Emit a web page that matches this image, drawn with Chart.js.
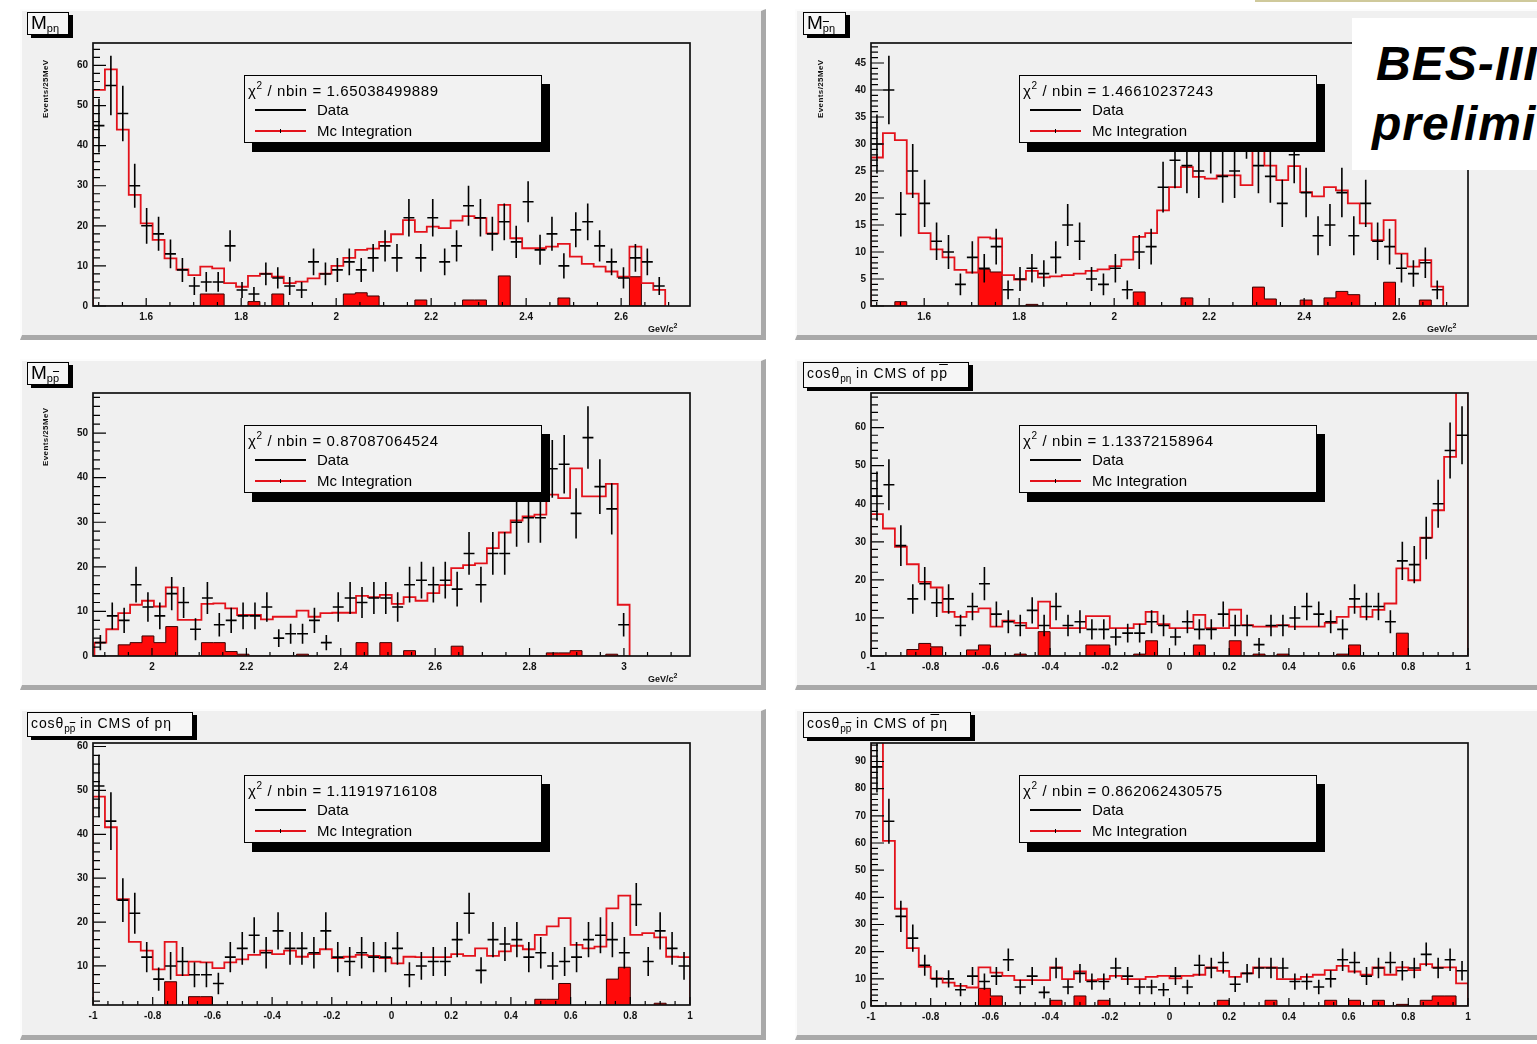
<!DOCTYPE html>
<html>
<head>
<meta charset="utf-8">
<title>BES-III p pbar eta projections</title>
<script src="https://cdn.jsdelivr.net/npm/chart.js@4.4.1/dist/chart.umd.min.js"></script>
<style>
  html, body { margin: 0; padding: 0; }
  body { width: 1537px; height: 1044px; overflow: hidden; position: relative; background: #ffffff; font-family: "Liberation Sans", Arial, sans-serif; }
  .pad { position: absolute; box-sizing: border-box; background: #f0f0f0; border-top: 2px solid #fcfcfc; border-left: 2px solid #fcfcfc; border-right: 5px solid #a9a9a9; border-bottom: 5px solid #a9a9a9; }
  canvas.plot { position: absolute; }
  .ptitle { position: absolute; box-sizing: border-box; background: #f6f6f6; border: 1px solid #000; box-shadow: 4px 3px 0 #000; color: #000; white-space: nowrap; padding-left: 3px; }
  .ptitle.m { font-size: 19px; line-height: 20px; }
  .ptitle.m sub { font-size: 11px; vertical-align: -3px; }
  .ptitle.c { font-size: 14px; line-height: 20px; letter-spacing: 0.9px; }
  .ptitle.c sub { font-size: 10px; vertical-align: -4px; letter-spacing: 0; }
  .ov { text-decoration: overline; }
  .legend { position: absolute; box-sizing: border-box; width: 298px; height: 68px; background: #f2f2f2; border: 1.5px solid #000; box-shadow: 8px 9px 0 #000; color: #000; font-size: 15px; }
  .legend .row { position: absolute; left: 0; height: 18px; line-height: 18px; white-space: nowrap; }
  .legend .chi { left: 3px; letter-spacing: 0.6px; }
  .legend .chi sup { font-size: 10px; vertical-align: 7px; }
  .legend .lbl { position: absolute; left: 72px; top: 0; }
  .legend .sample { position: absolute; left: 10px; top: 8px; width: 51px; height: 2px; }
  .legend .tick { position: absolute; left: 35px; top: 7px; width: 1px; height: 4px; background: #000; }
  .ytitle { position: absolute; font-size: 8px; font-weight: bold; color: #111; white-space: nowrap; transform-origin: 0 0; transform: rotate(-90deg); letter-spacing: 0.4px; }
  .xtitle { position: absolute; font-size: 9px; font-weight: bold; color: #111; white-space: nowrap; }
  .xtitle sup { font-size: 7px; }
  #bes { position: absolute; left: 1352px; top: 18px; width: 200px; height: 152px; background: #ffffff; }
  #bes div { position: absolute; font-weight: bold; font-style: italic; font-size: 48px; line-height: 48px; letter-spacing: 1px; color: #000; white-space: nowrap; }
  #topline { position: absolute; left: 1255px; top: 0; width: 282px; height: 2px; background: #cfc99b; }
</style>
</head>
<body>
<script>
// ---------- values ----------
// M(p eta), 48 bins
const mPEtaLo = 1.488, mPEtaW = 0.0251;
const mPEtaXTicks = [1.6, 1.8, 2, 2.2, 2.4, 2.6];
const mPEtaData = [45, 55, 48, 30, 20, 18, 13, 9, 5, 6, 6, 15, 4, 3, 8, 7, 5, 4, 11, 8, 9, 11, 9, 12, 15, 12, 22, 12, 22, 11, 15, 25, 22, 18, 21, 16, 26, 14, 18, 10, 19, 21, 15, 11, 7, 12, 11, 5];
const mPEtaMc = [53.9, 59, 44, 27.7, 20.6, 16.5, 11.9, 9.1, 7.7, 9.8, 9.4, 5.7, 4.8, 7.5, 8.1, 7.3, 5.7, 6.1, 6.9, 8.1, 10, 12, 14, 14.3, 16, 17.9, 21.4, 18.5, 19.8, 19.4, 21.3, 22.4, 21.9, 18.1, 25.2, 16.9, 14.4, 14.4, 14.8, 15.5, 12.3, 10.5, 9.8, 8.6, 7.3, 14.8, 5.7, 4];
const mPEtaBkg = [0, 0, 0, 0, 0, 0, 0, 0, 0, 3, 3, 0, 0, 1.1, 0, 3, 0, 0, 0, 0, 0, 3, 3.3, 2.5, 0, 0, 0, 1.5, 0, 0, 0, 1.5, 1.5, 0, 7.5, 0, 0, 0, 0, 2, 0, 0, 0, 0, 0, 7.3, 0, 0];

// M(pbar eta), 48 bins
const mPbEtaData = [30, 40, 17, 25, 19, 12, 10, 4, 9, 7, 11, 3, 5, 7, 6, 9, 15, 12, 5, 4, 7, 3, 10, 11, 22, 27, 26, 25, 30, 24, 25, 33, 26, 24, 19, 28, 21, 13, 15, 21, 13, 19, 12, 11, 7, 6, 8, 3];
const mPbEtaMc = [27.5, 32, 30.7, 20.8, 13.5, 10.5, 9, 6.7, 6.2, 12.7, 12.5, 5.7, 4.9, 6.5, 5.3, 5.5, 5.7, 6, 6.5, 6.8, 7.4, 8.6, 12.8, 13.5, 17.7, 22, 25.7, 23.9, 23.6, 24.2, 24.2, 22.4, 28.8, 26, 23.3, 25.9, 21.1, 20.3, 22, 21.4, 19, 15.3, 12.2, 15.9, 9.7, 7.3, 8.5, 3.6];
const mPbEtaBkg = [0, 0, 0.8, 0, 0, 0, 0, 0, 0, 6.8, 6.3, 0, 0, 0.3, 0, 0, 0, 0, 0, 0, 0, 0, 2.6, 0, 0, 0, 1.5, 0, 0, 0, 0, 0, 3.5, 1.3, 0, 0, 1.1, 0, 1.5, 2.7, 2.1, 0, 0, 4.4, 0, 0, 1.1, 0];

// M(p pbar), 45 bins
const mPPbLo = 1.878, mPPbW = 0.0252;
const mPPbXTicks = [2, 2.2, 2.4, 2.6, 2.8, 3];
const mPPbData = [3, 9, 8, 16, 11, 9, 14, 12, 6, 13, 7, 8, 9, 9, 11, 4, 5, 5, 8, 3, 11, 13, 12, 13, 13, 11, 16, 17, 16, 17, 15, 23, 16, 23, 23, 30, 31, 31, 42, 43, 32, 49, 38, 33, 7];
const mPPbMc = [3, 6, 9.6, 11.5, 12.4, 11.1, 15.4, 8.1, 8.1, 11.7, 11.8, 10.7, 9.2, 9.2, 8.2, 8.8, 8.8, 10.2, 8.8, 9.6, 9.7, 9.7, 13.5, 13.2, 13.7, 11.7, 13.2, 12.4, 14.1, 15.9, 19.7, 20.4, 20.8, 24.2, 27.7, 30.4, 31.3, 31.7, 36.2, 35.4, 42.1, 35.8, 35.8, 38.6, 11.5];
const mPPbBkg = [0, 0, 2.5, 3, 4.5, 3, 6.6, 0, 0, 3, 3, 1, 0.4, 0, 0, 0, 0, 0.4, 0, 0, 0, 0, 3, 0, 3, 0, 1.2, 0, 0, 0, 2.2, 0, 0, 0, 0, 0, 0, 0, 0.7, 0.7, 1.2, 0, 0, 0.4, 0];

// cos(theta) distributions, 50 bins on [-1, 1]
const cosLo = -1, cosW = 0.04;
const cosXTicks = [-1, -0.8, -0.6, -0.4, -0.2, 0, 0.2, 0.4, 0.6, 0.8, 1];
const cosPEtaData = [42, 45, 29, 15, 19, 14, 15, 8, 13, 19, 11, 9, 8, 12, 8, 13, 8, 9, 7, 7, 5, 6, 6, 9, 8, 5, 9, 7, 7, 11, 8, 8, 3, 8, 8, 10, 13, 11, 9, 7, 15, 13, 13, 9, 25, 24, 31, 40, 54, 58];
const cosPEtaMc = [37.3, 33.5, 28.7, 24.1, 19.5, 18, 11.6, 10.3, 11.6, 12.5, 7.7, 9.3, 8.7, 7.3, 14.3, 7.3, 7.3, 7.3, 10.5, 10.5, 7.3, 7.3, 8.4, 11.6, 8.4, 7.3, 7.3, 10.8, 7.3, 7.3, 12.2, 8.1, 7.7, 7.7, 8.1, 7.7, 7.7, 7.7, 8.7, 10.3, 12.9, 10.3, 12.1, 13.8, 23, 19.9, 31.1, 38.3, 52.3, 74];
const cosPEtaBkg = [0, 0, 0, 1.7, 3.3, 2.4, 0, 0, 1.6, 2.9, 0, 0, 0.5, 0, 6.4, 0, 0, 0, 2.9, 2.9, 0, 0, 0.5, 4, 0, 0, 0, 2.9, 0, 0, 4, 0, 0.5, 0, 0.5, 0, 0, 0, 0, 0.5, 2.9, 0, 0, 0, 6, 0, 0, 0, 0, 0];

const cosPPb1Data = [51, 43, 25, 22, 12, 7, 10, 11, 8, 8, 6, 12, 14, 17, 13, 18, 14, 14, 13, 18, 12, 11, 13, 12, 12, 14, 8, 10, 11, 11, 16, 22, 9, 16, 15, 16, 12, 13, 10, 11, 12, 16, 17, 16, 13, 24, 11, 18, 14, 10];
const cosPPb1Mc = [48.6, 41.6, 25.2, 15.5, 13.5, 9.2, 15.5, 7.9, 11, 10.8, 9.5, 10.8, 11.5, 12.5, 13.5, 12.7, 13.5, 12.1, 12.7, 13.8, 11.8, 12.1, 12.5, 12.3, 11.8, 10.6, 12.1, 12, 12, 12, 12.7, 12.3, 14, 12.3, 13.3, 14.6, 13.8, 17.1, 19, 20.9, 14.8, 14, 14.4, 23.1, 26, 17.1, 17.5, 16.5, 12.1, 12];
const cosPPb1Bkg = [0, 0, 0, 0, 0, 0, 6.4, 0, 3, 3, 0, 0, 0, 0, 0, 0, 0, 0, 0, 0, 0, 0, 0, 0, 0, 0, 0, 0, 0, 0, 0, 0, 0, 0, 0, 0, 0, 2.4, 2.4, 6, 0, 0, 0, 7, 9.7, 0, 0, 1.5, 0, 0];

const cosPPb2Data = [88, 68, 33, 25, 15, 10, 10, 6, 11, 9, 11, 17, 7, 11, 5, 14, 7, 12, 9, 9, 14, 11, 7, 7, 6, 11, 7, 15, 14, 16, 8, 12, 14, 14, 14, 9, 9, 7, 10, 17, 16, 11, 14, 16, 13, 14, 19, 14, 17, 13];
const cosPPb2Mc = [110, 60.8, 35.8, 21.3, 14.4, 10.2, 8.6, 7.4, 6.8, 14.2, 12.3, 11.1, 9.5, 9.5, 9.5, 14.2, 9.9, 12.7, 9.5, 9.9, 11.1, 9.9, 9.9, 10.7, 11.1, 10.2, 11.1, 11.5, 14.2, 12.9, 10.7, 12, 14.2, 14.2, 9.9, 9.9, 10.7, 11.5, 13.2, 14.8, 12.7, 11.5, 14.2, 11.5, 14.2, 13.2, 15.4, 14.2, 14.2, 8.3];
const cosPPb2Bkg = [0, 0, 0, 0, 0, 0, 0, 0, 0, 6.5, 3.7, 0, 0, 0, 0, 2.1, 0, 3.7, 0, 2.1, 0, 0, 0, 0, 0, 0, 0, 0, 0, 2.1, 0, 0, 0, 2.1, 0, 0, 0, 0, 2.1, 0, 2.1, 0, 2.1, 0, 0.6, 0, 2.1, 3.7, 3.7, 0];

const yTicks60 = [0, 10, 20, 30, 40, 50, 60];
const yTicks45 = [0, 5, 10, 15, 20, 25, 30, 35, 40, 45];
const yTicks50 = [0, 10, 20, 30, 40, 50];
const yTicks10to60 = [10, 20, 30, 40, 50, 60];
const yTicks90 = [0, 10, 20, 30, 40, 50, 60, 70, 80, 90];

const chiValues = ["1.65038499889", "1.46610237243", "0.87087064524", "1.13372158964", "1.11919716108", "0.862062430575"];

// ---------- layout ----------
const panels = [
  { pad: [20, 9, 746, 331], frame: [93, 43, 690, 306], x: [1.488, 2.745], y: [0, 65.6], xTicks: mPEtaXTicks, yTicks: yTicks60, xMinor: 0.05, yMinor: 2,
    lo: mPEtaLo, w: mPEtaW, data: mPEtaData, mc: mPEtaMc, bkg: mPEtaBkg,
    title: 'M<sub>p&eta;</sub>', tcls: 'm', tbox: [27, 12, 42, 23], legend: [244, 75], ytitle: [41, 118], xtitle: [648, 322] },
  { pad: [795, 9, 760, 331], frame: [871, 43, 1468, 306], x: [1.488, 2.745], y: [0, 48.7], xTicks: mPEtaXTicks, yTicks: yTicks45, xMinor: 0.05, yMinor: 1,
    lo: mPEtaLo, w: mPEtaW, data: mPbEtaData, mc: mPbEtaMc, bkg: mPbEtaBkg,
    title: 'M<sub><span class="ov">p</span>&eta;</sub>', tcls: 'm', tbox: [803, 12, 43, 23], legend: [1019, 75], ytitle: [816, 118], xtitle: [1427, 322] },
  { pad: [20, 359, 746, 331], frame: [93, 393, 690, 656], x: [1.875, 3.14], y: [0, 59], xTicks: mPPbXTicks, yTicks: yTicks50, xMinor: 0.05, yMinor: 2,
    lo: mPPbLo, w: mPPbW, data: mPPbData, mc: mPPbMc, bkg: mPPbBkg,
    title: 'M<sub>p<span class="ov">p</span></sub>', tcls: 'm', tbox: [27, 362, 42, 23], legend: [244, 425], ytitle: [41, 466], xtitle: [648, 672] },
  { pad: [795, 359, 760, 331], frame: [871, 393, 1468, 656], x: [-1, 1], y: [0, 69.1], xTicks: cosXTicks, yTicks: yTicks60, xMinor: 0.05, yMinor: 2,
    lo: cosLo, w: cosW, data: cosPEtaData, mc: cosPEtaMc, bkg: cosPEtaBkg,
    title: 'cos&theta;<sub>p&eta;</sub> in CMS of p<span class="ov">p</span>', tcls: 'c', tbox: [803, 362, 166, 26], legend: [1019, 425] },
  { pad: [20, 709, 746, 331], frame: [93, 743, 690, 1005], x: [-1, 1], y: [1.1, 60.8], xTicks: cosXTicks, yTicks: yTicks10to60, xMinor: 0.05, yMinor: 2,
    lo: cosLo, w: cosW, data: cosPPb1Data, mc: cosPPb1Mc, bkg: cosPPb1Bkg,
    title: 'cos&theta;<sub>p<span class="ov">p</span></sub> in CMS of p&eta;', tcls: 'c', tbox: [27, 712, 166, 25], legend: [244, 775] },
  { pad: [795, 709, 760, 331], frame: [871, 743, 1468, 1006], x: [-1, 1], y: [0, 96.8], xTicks: cosXTicks, yTicks: yTicks90, xMinor: 0.05, yMinor: 2,
    lo: cosLo, w: cosW, data: cosPPb2Data, mc: cosPPb2Mc, bkg: cosPPb2Bkg,
    title: 'cos&theta;<sub>p<span class="ov">p</span></sub> in CMS of <span class="ov">p</span>&eta;', tcls: 'c', tbox: [803, 712, 168, 26], legend: [1019, 775] }
];

const Y_AXIS_W = 40, X_AXIS_H = 22, PAGE_W = 1537;

// histogram outline through bin edges, for stepped lines
function stepPoints(lo, w, vals) {
  const pts = [{ x: lo, y: 0 }];
  vals.forEach((v, i) => pts.push({ x: lo + i * w, y: v }));
  const end = lo + vals.length * w;
  pts.push({ x: end, y: vals[vals.length - 1] });
  pts.push({ x: end, y: 0 });
  return pts;
}

function fmt(v) {
  return String(Math.round(v * 100) / 100);
}

// ROOT-like frame: error crosses, inward ticks, black box
const rootFrame = {
  id: 'rootFrame',
  afterDatasetsDraw(chart, args, opts) {
    const { ctx, chartArea: a } = chart;
    const xs = chart.scales.x, ys = chart.scales.y;
    ctx.save();
    ctx.beginPath();
    ctx.rect(a.left, a.top, a.right - a.left, a.bottom - a.top);
    ctx.clip();
    ctx.strokeStyle = '#000';
    ctx.lineWidth = 1.6;
    chart.data.datasets.forEach((ds, i) => {
      if (!ds.errorBars) return;
      const meta = chart.getDatasetMeta(i);
      ctx.beginPath();
      meta.data.forEach((pt, j) => {
        const d = ds.data[j];
        const half = Math.abs(xs.getPixelForValue(d.x + ds.binWidth / 2) - xs.getPixelForValue(d.x)) - 0.5;
        const err = Math.sqrt(d.y);
        ctx.moveTo(pt.x - half, pt.y);
        ctx.lineTo(pt.x + half, pt.y);
        ctx.moveTo(pt.x, ys.getPixelForValue(d.y + err));
        ctx.lineTo(pt.x, ys.getPixelForValue(d.y - err));
      });
      ctx.stroke();
    });
    ctx.restore();

    ctx.save();
    ctx.strokeStyle = '#000';
    ctx.lineWidth = 1.2;
    ctx.beginPath();
    const isMajor = (v, majors, step) => majors.some(m => Math.abs(m - v) < step / 10);
    for (let k = Math.ceil(xs.min / opts.xMinor - 1e-6); k * opts.xMinor <= xs.max + 1e-9; k++) {
      const v = k * opts.xMinor;
      const p = xs.getPixelForValue(v);
      const len = isMajor(v, opts.xTicks, opts.xMinor) ? 8 : 4;
      ctx.moveTo(p, a.bottom);
      ctx.lineTo(p, a.bottom - len);
    }
    for (let k = Math.ceil(ys.min / opts.yMinor - 1e-6); k * opts.yMinor <= ys.max + 1e-9; k++) {
      const v = k * opts.yMinor;
      const p = ys.getPixelForValue(v);
      const len = isMajor(v, opts.yTicks, opts.yMinor) ? 13 : 7;
      ctx.moveTo(a.left, p);
      ctx.lineTo(a.left + len, p);
    }
    ctx.stroke();
    ctx.lineWidth = 1.7;
    ctx.strokeStyle = '#111';
    ctx.strokeRect(a.left, a.top, a.right - a.left, a.bottom - a.top);
    ctx.restore();
  }
};

function el(tag, cls, style, html) {
  const e = document.createElement(tag);
  if (cls) e.className = cls;
  if (style) e.setAttribute('style', style);
  if (html) e.innerHTML = html;
  document.body.appendChild(e);
  return e;
}

const tickFont = { family: "'Liberation Sans', Arial, sans-serif", size: 10, weight: 'bold' };

panels.forEach((p, idx) => {
  const [px, py, pw, ph] = p.pad;
  el('div', 'pad', `left:${px}px;top:${py}px;width:${pw}px;height:${ph}px`);

  const cw = Math.min(pw, PAGE_W - px), ch = ph;
  const canvas = el('canvas', 'plot', `left:${px}px;top:${py}px;width:${cw}px;height:${ch}px`);
  canvas.width = cw;
  canvas.height = ch;
  const [fx0, fy0, fx1, fy1] = p.frame;

  const centers = p.data.map((v, i) => ({ x: p.lo + (i + 0.5) * p.w, y: v }));

  new Chart(canvas, {
    type: 'line',
    data: {
      datasets: [
        { label: 'Data', data: centers, showLine: false, pointRadius: 0, pointHoverRadius: 0, errorBars: true, binWidth: p.w },
        { label: 'Mc Integration', data: stepPoints(p.lo, p.w, p.mc), stepped: true, borderColor: '#e3121b', borderWidth: 1.8, pointRadius: 0, fill: false },
        { label: 'Background', data: stepPoints(p.lo, p.w, p.bkg), stepped: true, borderColor: '#3a0000', borderWidth: 1, pointRadius: 0, fill: 'origin', backgroundColor: '#ff0a0a' }
      ]
    },
    options: {
      responsive: false,
      animation: false,
      devicePixelRatio: 1,
      events: [],
      layout: {
        autoPadding: false,
        padding: { left: fx0 - px - Y_AXIS_W, top: fy0 - py, right: px + cw - fx1, bottom: py + ch - fy1 - X_AXIS_H }
      },
      plugins: {
        legend: { display: false },
        tooltip: { enabled: false },
        rootFrame: { xTicks: p.xTicks, yTicks: p.yTicks, xMinor: p.xMinor, yMinor: p.yMinor }
      },
      scales: {
        x: {
          type: 'linear', min: p.x[0], max: p.x[1],
          grid: { display: false, drawTicks: false }, border: { display: false },
          afterBuildTicks: s => { s.ticks = p.xTicks.map(v => ({ value: v })); },
          afterFit: s => { s.height = X_AXIS_H; },
          ticks: { padding: 5, color: '#111', font: tickFont, maxRotation: 0, autoSkip: false, callback: v => fmt(v) }
        },
        y: {
          type: 'linear', min: p.y[0], max: p.y[1],
          grid: { display: false, drawTicks: false }, border: { display: false },
          afterBuildTicks: s => { s.ticks = p.yTicks.map(v => ({ value: v })); },
          afterFit: s => { s.width = Y_AXIS_W; },
          ticks: { padding: 5, color: '#111', font: tickFont, autoSkip: false, callback: v => fmt(v) }
        }
      }
    },
    plugins: [rootFrame]
  });

  const [tx, ty, tw, th] = p.tbox;
  el('div', 'ptitle ' + p.tcls, `left:${tx}px;top:${ty}px;width:${tw}px;height:${th}px`, p.title);

  const [lx, ly] = p.legend;
  el('div', 'legend', `left:${lx}px;top:${ly}px`,
    `<div class="row chi" style="top:1px">&chi;<sup>2</sup> / nbin = ${chiValues[idx]}</div>` +
    `<div class="row" style="top:25px;width:290px"><span class="sample" style="background:#000"></span><span class="lbl">Data</span></div>` +
    `<div class="row" style="top:46px;width:290px"><span class="sample" style="background:#e3121b"></span><span class="tick"></span><span class="lbl">Mc Integration</span></div>`);

  if (p.ytitle) el('div', 'ytitle', `left:${p.ytitle[0]}px;top:${p.ytitle[1]}px`, 'Events/25MeV');
  if (p.xtitle) el('div', 'xtitle', `left:${p.xtitle[0]}px;top:${p.xtitle[1]}px`, 'GeV/c<sup>2</sup>');
});

el('div', null, null, '').id = 'topline';
const bes = el('div', null, null, '<div style="left:24px;top:22px">BES-III</div><div style="left:20px;top:82px">preliminary</div>');
bes.id = 'bes';
</script>
</body>
</html>
